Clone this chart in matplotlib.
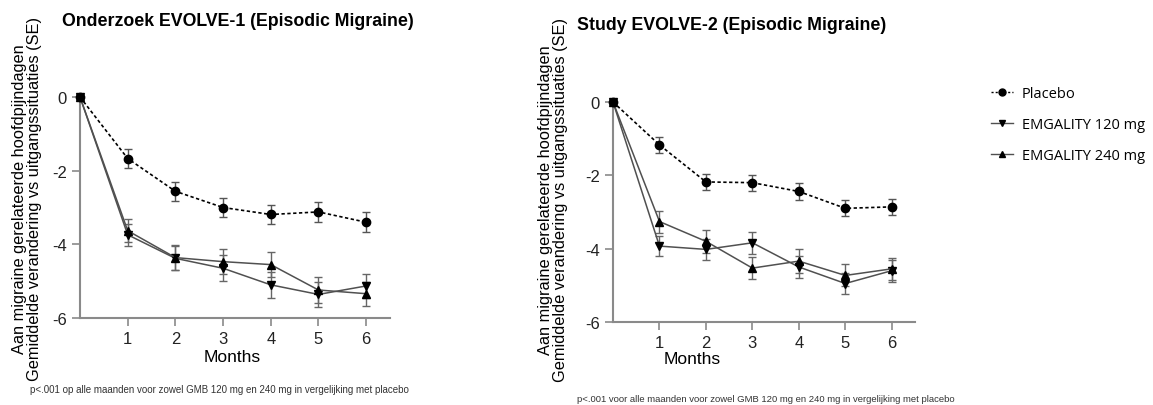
"""
EVOLVE-1 / EVOLVE-2: change from baseline in migraine headache days.
"""

import matplotlib.pyplot as plt
from matplotlib.lines import Line2D

plt.rcParams['font.family'] = ['Liberation Sans', 'DejaVu Sans']
plt.rcParams['axes.unicode_minus'] = False

months = [0, 1, 2, 3, 4, 5, 6]

# EVOLVE-1
evolve1_placebo = [0, -1.67, -2.56, -3.0, -3.19, -3.12, -3.40]
evolve1_placebo_se = [0, 0.26, 0.25, 0.25, 0.27, 0.27, 0.27]
evolve1_120 = [0, -3.74, -4.38, -4.65, -5.10, -5.36, -5.13]
evolve1_120_se = [0, 0.30, 0.33, 0.35, 0.35, 0.33, 0.33]
evolve1_240 = [0, -3.63, -4.36, -4.47, -4.55, -5.24, -5.34]
evolve1_240_se = [0, 0.32, 0.33, 0.33, 0.35, 0.35, 0.33]

# EVOLVE-2
evolve2_placebo = [0, -1.17, -2.18, -2.20, -2.44, -2.90, -2.86]
evolve2_placebo_se = [0, 0.21, 0.22, 0.22, 0.23, 0.22, 0.22]
evolve2_120 = [0, -3.93, -4.02, -3.84, -4.50, -4.95, -4.60]
evolve2_120_se = [0, 0.28, 0.28, 0.30, 0.30, 0.28, 0.30]
evolve2_240 = [0, -3.26, -3.80, -4.53, -4.34, -4.73, -4.55]
evolve2_240_se = [0, 0.30, 0.32, 0.30, 0.32, 0.30, 0.30]

series_labels = ['Placebo', 'EMGALITY 120 mg', 'EMGALITY 240 mg']
y_ticks = [0, -2, -4, -6]
x_ticks = [1, 2, 3, 4, 5, 6]

W, H = 1153, 406
SPINE = '#8a8a8a'
PLACEBO_LS = (0, (2, 1.5))


def draw_panel(ax, placebo, placebo_se, d120, d120_se, d240, d240_se):
    ax.errorbar(months, placebo, yerr=placebo_se, color='black', ls=PLACEBO_LS,
                lw=1.2, marker='o', ms=6, ecolor='#555555', elinewidth=1,
                capsize=3, clip_on=False, zorder=4)
    ax.errorbar(months, d120, yerr=d120_se, color='#505050', ls='-', lw=1.1,
                marker='v', ms=6, mfc='black', mec='black', ecolor='#666666',
                elinewidth=1, capsize=3, clip_on=False, zorder=3)
    ax.errorbar(months, d240, yerr=d240_se, color='#505050', ls='-', lw=1.1,
                marker='^', ms=6, mfc='black', mec='black', ecolor='#666666',
                elinewidth=1, capsize=3, clip_on=False, zorder=3)

    ax.set_xlim(0, 6.5)
    ax.set_ylim(-6, 0)
    ax.set_xticks(x_ticks)
    ax.set_yticks(y_ticks)
    ax.set_yticklabels([str(t) for t in y_ticks])
    for side in ['top', 'right']:
        ax.spines[side].set_visible(False)
    for side in ['left', 'bottom']:
        ax.spines[side].set_color(SPINE)
        ax.spines[side].set_linewidth(1.5)
    ax.tick_params(axis='both', colors=SPINE, width=1.2, length=6,
                   labelcolor='#222222', labelsize=12)


fig = plt.figure(figsize=(W / 100, H / 100), dpi=100)

ax1 = fig.add_axes([80 / W, 1 - 319 / H, 310 / W, 221 / H])
draw_panel(ax1, evolve1_placebo, evolve1_placebo_se, evolve1_120,
           evolve1_120_se, evolve1_240, evolve1_240_se)

ax2 = fig.add_axes([613 / W, 1 - 323 / H, 302 / W, 220 / H])
draw_panel(ax2, evolve2_placebo, evolve2_placebo_se, evolve2_120,
           evolve2_120_se, evolve2_240, evolve2_240_se)

ylabel = 'Aan migraine gerelateerde hoofdpijndagen\nGemiddelde verandering vs uitgangssituaties (SE)'

# left panel texts
fig.text(62 / W, 1 - 22 / H, 'Onderzoek EVOLVE-1 (Episodic Migraine)',
         fontsize=12.8, fontweight='bold', ha='left', va='center')
fig.text(27 / W, 1 - 199 / H, ylabel, rotation=90, fontsize=11.8,
         ha='center', va='center', multialignment='center', linespacing=1.05)
fig.text(232 / W, 1 - 358 / H, 'Months', fontsize=12.5, ha='center', va='center')
fig.text(30 / W, 1 - 390 / H,
         'p<.001 op alle maanden voor zowel GMB 120 mg en 240 mg in vergelijking met placebo',
         fontsize=7.0, color='#333333', ha='left', va='center')

# right panel texts
fig.text(577 / W, 1 - 25 / H, 'Study EVOLVE-2 (Episodic Migraine)',
         fontsize=12.8, fontweight='bold', ha='left', va='center')
fig.text(553 / W, 1 - 200 / H, ylabel, rotation=90, fontsize=11.8,
         ha='center', va='center', multialignment='center', linespacing=1.05)
fig.text(692 / W, 1 - 360 / H, 'Months', fontsize=12.5, ha='center', va='center')
fig.text(577 / W, 1 - 400 / H,
         'p<.001 voor alle maanden voor zowel GMB 120 mg en 240 mg in vergelijking met placebo',
         fontsize=6.8, color='#333333', ha='left', va='center')

legend_handles = [
    Line2D([], [], color='black', ls=(0, (1.5, 1.5)), lw=1, marker='o', ms=5),
    Line2D([], [], color='#505050', ls='-', lw=1, marker='v', ms=5,
           mfc='black', mec='black'),
    Line2D([], [], color='#505050', ls='-', lw=1, marker='^', ms=5,
           mfc='black', mec='black'),
]
fig.legend(legend_handles, series_labels, loc='upper left',
           bbox_to_anchor=(978 / W, 1 - 74 / H), frameon=False,
           handlelength=1.5, handletextpad=0.6, labelspacing=1.1,
           prop={'family': ['Open Sans', 'DejaVu Sans'], 'size': 10.5})

fig.savefig('out.png', dpi=100)
